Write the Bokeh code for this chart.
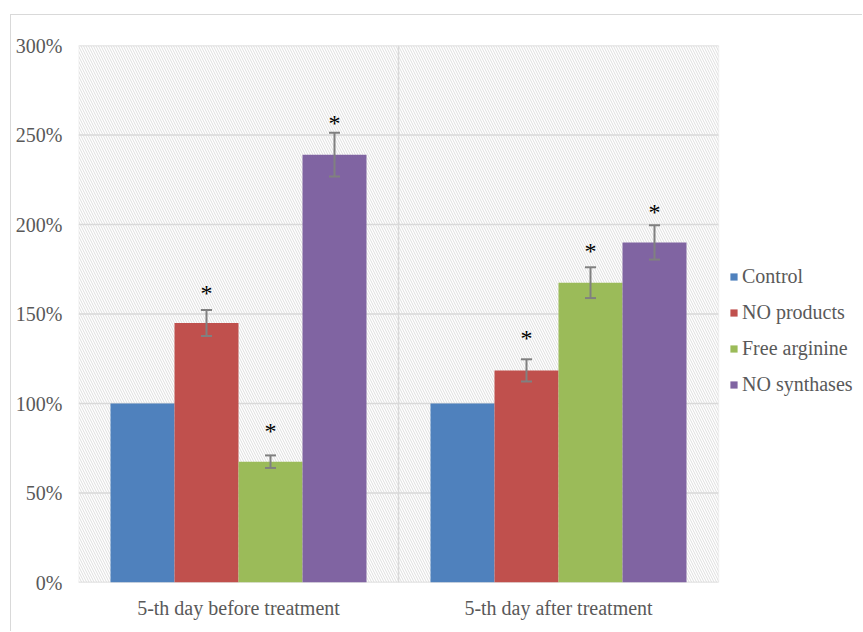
from bokeh.plotting import figure
from bokeh.models import (ColumnDataSource, Range1d, FixedTicker,
                          NumeralTickFormatter, BoxAnnotation, Legend, LegendItem)
from bokeh.transform import dodge
from bokeh.core.properties import value
from bokeh.embed import file_html
from bokeh.resources import INLINE

# ---- data ----
categories = ["5-th day before treatment", "5-th day after treatment"]
series = ["Control", "NO products", "Free arginine", "NO synthases"]
series_colors = ["#4f81bd", "#c0504d", "#9bbb59", "#8064a2"]

control = [1.00, 1.00]
no_products = [1.45, 1.185]
free_arginine = [0.675, 1.675]
no_synthases = [2.39, 1.90]

no_products_err = [0.073, 0.062]
free_arginine_err = [0.035, 0.086]
no_synthases_err = [0.122, 0.096]

no_products_star = [1.631, 1.376]
free_arginine_star = [0.860, 1.864]
no_synthases_star = [2.577, 2.082]

y_ticks = [0, 0.5, 1.0, 1.5, 2.0, 2.5, 3.0]

# ---- styling / layout ----
FONT = "'Liberation Serif'"
TEXT_COLOR = "#595959"
GRID_COLOR = "#d9d9d9"
ERR_COLOR = "#808080"
offsets = [-0.3, -0.1, 0.1, 0.3]
bar_width = 0.2

W, H = 852, 617
BL, BR, BT, BB = 67, 0, 30, 50
plot_px = 640                       # width of the hatched plot area in pixels
n_cat = len(categories)
x_end = n_cat * (W - BL - BR) / plot_px   # frame also hosts the legend on the right
cat_pos = [i + 0.5 for i in range(n_cat)]

p = figure(x_range=Range1d(0, x_end), y_range=Range1d(0, 3),
           width=W, height=H,
           output_backend="svg", toolbar_location=None,
           min_border_left=BL, min_border_right=BR,
           min_border_top=BT, min_border_bottom=BB)
p.styles = {"margin-left": "10px", "margin-top": "14px",
            "border-left": "1px solid #d9d9d9", "border-top": "1px solid #d9d9d9"}

p.background_fill_color = "white"
p.border_fill_color = "white"
p.outline_line_color = None
p.xgrid.visible = False
p.ygrid.visible = False

# hatched plot-area background with its border
bg = BoxAnnotation(left=0, right=n_cat, bottom=0, top=3,
                   fill_color="white", fill_alpha=1.0,
                   line_color=GRID_COLOR, line_width=1.5,
                   hatch_pattern="left_diagonal_line", hatch_color="#d6d6d6",
                   hatch_scale=5, hatch_weight=0.8, level="image")
p.add_layout(bg)

# horizontal gridlines (limited to the plot area) and category separators
p.segment(x0=[0] * len(y_ticks), x1=[n_cat] * len(y_ticks), y0=y_ticks, y1=y_ticks,
          line_color=GRID_COLOR, line_width=1.5, level="underlay")
sep_x = list(range(1, n_cat))
p.segment(x0=sep_x, x1=sep_x, y0=[0] * len(sep_x), y1=[3] * len(sep_x),
          line_color=GRID_COLOR, line_width=1.5, level="underlay")

# axes
p.yaxis.ticker = FixedTicker(ticks=y_ticks)
p.yaxis.formatter = NumeralTickFormatter(format="0%")
p.xaxis.ticker = FixedTicker(ticks=cat_pos)
p.xaxis.major_label_overrides = {pos: c for pos, c in zip(cat_pos, categories)}
for ax in (p.xaxis[0], p.yaxis[0]):
    ax.axis_line_color = None
    ax.major_tick_line_color = None
    ax.minor_tick_line_color = None
    ax.major_tick_in = 0
    ax.major_tick_out = 0
    ax.minor_tick_in = 0
    ax.minor_tick_out = 0
    ax.major_label_text_font = FONT
    ax.major_label_text_font_size = "20px"
    ax.major_label_text_color = TEXT_COLOR
p.yaxis.major_label_standoff = 16
p.xaxis.major_label_standoff = 14

src = ColumnDataSource(dict(
    x=cat_pos,
    control=control,
    no_products=no_products,
    free_arginine=free_arginine,
    no_synthases=no_synthases,
    np_lo=[v - e for v, e in zip(no_products, no_products_err)],
    np_hi=[v + e for v, e in zip(no_products, no_products_err)],
    fa_lo=[v - e for v, e in zip(free_arginine, free_arginine_err)],
    fa_hi=[v + e for v, e in zip(free_arginine, free_arginine_err)],
    ns_lo=[v - e for v, e in zip(no_synthases, no_synthases_err)],
    ns_hi=[v + e for v, e in zip(no_synthases, no_synthases_err)],
    np_star=no_products_star,
    fa_star=free_arginine_star,
    ns_star=no_synthases_star,
    star=["*"] * n_cat,
))

cols = ["control", "no_products", "free_arginine", "no_synthases"]
items = []
for col, name, color, off in zip(cols, series, series_colors, offsets):
    r = p.vbar(x=dodge("x", off), top=col, width=bar_width,
               source=src, fill_color=color, line_color=None)
    items.append(LegendItem(label=name, renderers=[r]))

# error bars and significance stars
for key, off in (("np", -0.1), ("fa", 0.1), ("ns", 0.3)):
    xs = dodge("x", off)
    p.segment(x0=xs, y0=key + "_lo", x1=xs, y1=key + "_hi", source=src,
              line_color=ERR_COLOR, line_width=2)
    p.scatter(x=xs, y=key + "_lo", marker="dash", size=11, source=src,
              line_color=ERR_COLOR, line_width=2)
    p.scatter(x=xs, y=key + "_hi", marker="dash", size=11, source=src,
              line_color=ERR_COLOR, line_width=2)
    p.text(x=xs, y=key + "_star", text="star", source=src,
           text_font=value(FONT), text_font_size="24px", text_color="black",
           text_align="center", text_baseline="alphabetic", y_offset=2)

legend = Legend(items=items, location=(651, 186), orientation="vertical",
                padding=0, margin=0, spacing=13,
                glyph_width=9, glyph_height=9, label_standoff=4, label_height=22,
                label_text_font=FONT, label_text_font_size="20px",
                label_text_color=TEXT_COLOR,
                border_line_color=None, background_fill_alpha=0)
p.add_layout(legend)

open("out.html", "w").write(file_html(p, INLINE))
